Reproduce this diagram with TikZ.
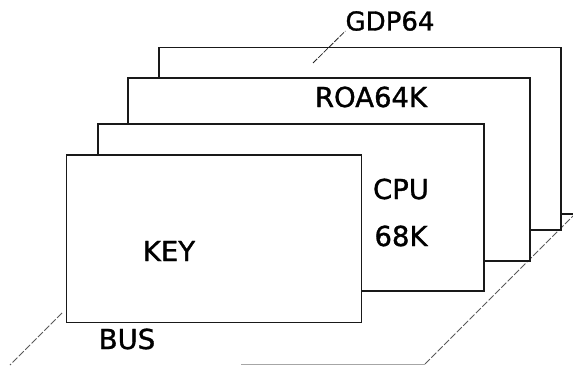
\documentclass[tikz,border=0pt]{standalone}
\usepackage{fontspec}
\setmainfont{DejaVu Sans}
\newfontfamily\plotfont{DejaVu Sans}[FakeBold=1.2]
\begin{document}
\begin{tikzpicture}[x=1pt,y=-1pt,
  board/.style={draw=black!90,line width=1.6pt,fill=white,rectangle,inner sep=0pt,anchor=north west},
  lbl/.style={inner sep=0pt,text=black,font=\plotfont\fontsize{27.5}{27.5}\selectfont},
  baseline/.style={draw=black!65,line width=0.8pt,dash pattern=on 7pt off 2pt},
  faint/.style={draw=black!35,line width=0.9pt},
  leader/.style={draw=black!85,line width=0.8pt,dash pattern=on 6pt off 1.5pt}]
\useasboundingbox (0,0) rectangle (573,366);
% base (bus plane)
\coordinate (bl1) at (62,313);
\coordinate (bl2) at (10,365);
\coordinate (bb1) at (241,364);
\coordinate (bb2) at (425,364);
\coordinate (br) at (573,216);
\draw[baseline] (bl1) -- (bl2);
\draw[faint] (bb1) -- (bb2);
\draw[baseline] (bb2) -- (br);
% stub of a further board
\coordinate (s1) at (560,214);
\coordinate (s2) at (573,214);
\draw[line width=1.4pt,black!90] (s1) -- (s2);
% boards, back to front
\node[board,minimum width=402pt,minimum height=182.6pt] (gdp) at (158,46.7) {};
\node[board,minimum width=402pt,minimum height=182.7pt] (roa) at (127.2,77.3) {};
\node[board,minimum width=386.3pt,minimum height=166.7pt] (cpu) at (96.9,123.3) {};
\node[board,minimum width=294.7pt,minimum height=167.7pt] (key) at (65.8,154) {};
% labels
\node[lbl,font=\plotfont\fontsize{26}{26}\selectfont] (tgdp) at (390,21) {GDP64};
\node[lbl] (troa) at (371,97) {ROA64K};
\node[lbl] (tcpu) at (401,189) {CPU};
\node[lbl] (t68k) at (401,236) {68K};
\node[lbl] (tkey) at (169,251) {KEY};
\node[lbl] (tbus) at (127,339) {BUS};
% leader for GDP64
\coordinate (lead) at (313,63);
\draw[leader] (lead) -- (tgdp.south west);
\end{tikzpicture}
\end{document}
